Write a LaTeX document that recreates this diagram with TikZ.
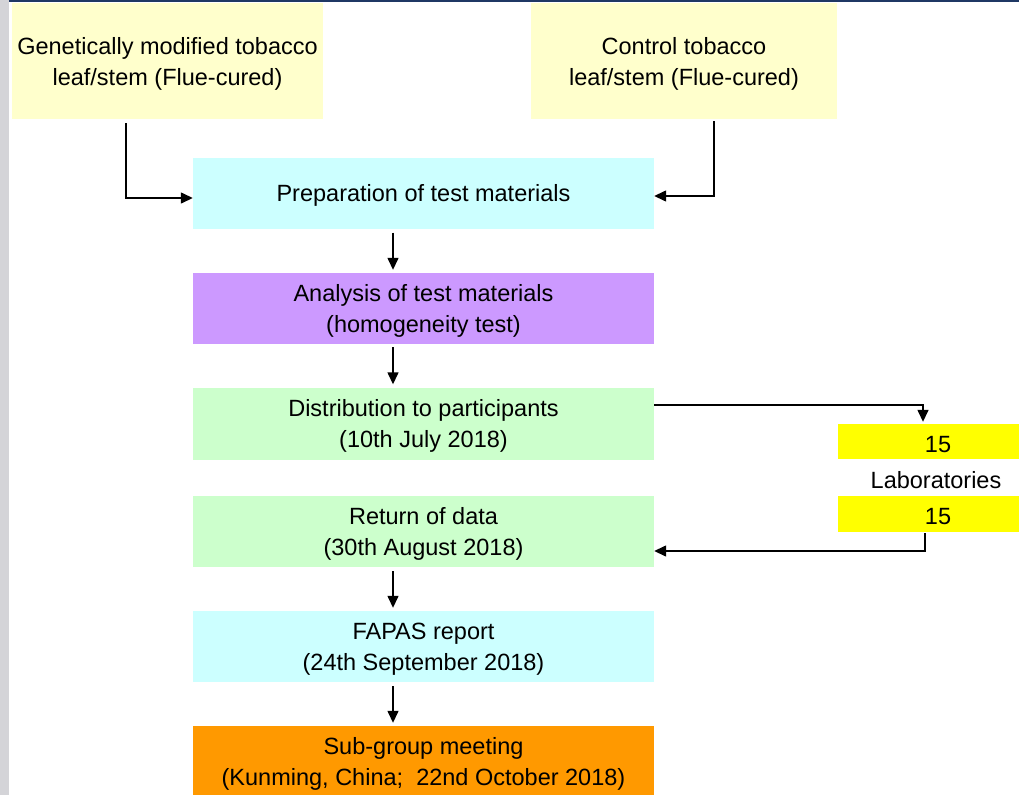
\documentclass[tikz,border=0pt]{standalone}
\usepackage{fontspec}
\setmainfont{Liberation Sans}
\usetikzlibrary{arrows.meta}
\definecolor{lyel}{HTML}{FFFFCC}
\definecolor{lcyan}{HTML}{CCFFFF}
\definecolor{lpurp}{HTML}{CC99FF}
\definecolor{lgreen}{HTML}{CCFFCC}
\definecolor{orng}{HTML}{FF9900}
\definecolor{yel}{HTML}{FFFF00}
\definecolor{edgegray}{HTML}{D4D4D8}
\definecolor{topblue}{HTML}{1F3864}
\newcommand\tstrut{\rule{0pt}{22.1bp}}
\tikzset{
  txt/.style={draw=none, inner sep=0pt, align=center,
    font=\fontsize{23.5bp}{31bp}\selectfont},
  box/.style={txt, fill=#1},
  arr/.style={line width=1.4bp, -{Triangle[length=12bp,width=11bp]}},
}
\begin{document}
\begin{tikzpicture}[x=1bp,y=-1bp]
\useasboundingbox (0,0) rectangle (1019,795);
\fill[white] (0,0) rectangle (1019,795);
\fill[edgegray] (0,0) rectangle (9,795);
\fill[topblue] (9,0) rectangle (1019,1.6);

\node[box=lyel, minimum width=311bp, minimum height=116bp] (gm) at (167.5,61)
  {\tstrut Genetically modified tobacco\\leaf/stem (Flue-cured)};
\node[box=lyel, minimum width=306bp, minimum height=116bp] (ctl) at (684,61)
  {\tstrut Control tobacco\\leaf/stem (Flue-cured)};
\node[box=lcyan, minimum width=461bp, minimum height=71bp] (prep) at (423.5,193)
  {\tstrut Preparation of test materials};
\node[box=lpurp, minimum width=461bp, minimum height=71bp] (ana) at (423.5,308.5)
  {\tstrut Analysis of test materials\\(homogeneity test)};
\node[box=lgreen, minimum width=461bp, minimum height=72bp] (dist) at (423.5,423.5)
  {\tstrut Distribution to participants\\(10th July 2018)};
\node[box=lgreen, minimum width=461bp, minimum height=71bp] (ret) at (423.5,531.5)
  {\tstrut Return of data\\(30th August 2018)};
\node[box=lcyan, minimum width=461bp, minimum height=71bp] (fapas) at (423.5,646.5)
  {\tstrut FAPAS report\\(24th September 2018)};
\node[box=orng, minimum width=461bp, minimum height=71bp] (sub) at (423.5,761.5)
  {\tstrut Sub-group meeting\\(Kunming, China;\ \ 22nd October 2018)};
\node[box=yel, minimum width=200bp, minimum height=35bp] (lab1) at (938,441.5) {\tstrut 15};
\node[txt] (labs) at (936,480) {Laboratories};
\node[box=yel, minimum width=200bp, minimum height=36bp] (lab2) at (938,514) {\tstrut 15};

\draw[arr] ([xshift=-41.5bp,yshift=-4bp]gm.south) |- ([yshift=-5bp]prep.west);
\draw[arr] ([xshift=30bp,yshift=-2bp]ctl.south) |- ([yshift=-3bp]prep.east);
\draw[arr, shorten <=4bp, shorten >=3bp] ([xshift=-30.5bp]prep.south) -- ([xshift=-30.5bp]ana.north);
\draw[arr, shorten <=3bp, shorten >=3bp] ([xshift=-30.5bp]ana.south) -- ([xshift=-30.5bp]dist.north);
\draw[arr] ([yshift=18.5bp]dist.east) -| ([xshift=-15bp,yshift=2bp]lab1.north);
\draw[arr] ([xshift=-13bp,yshift=-1bp]lab2.south) |- ([yshift=-19.5bp]ret.east);
\draw[arr, shorten <=4bp, shorten >=3bp] ([xshift=-30.5bp]ret.south) -- ([xshift=-30.5bp]fapas.north);
\draw[arr, shorten <=4bp, shorten >=3bp] ([xshift=-30.5bp]fapas.south) -- ([xshift=-30.5bp]sub.north);
\end{tikzpicture}
\end{document}
